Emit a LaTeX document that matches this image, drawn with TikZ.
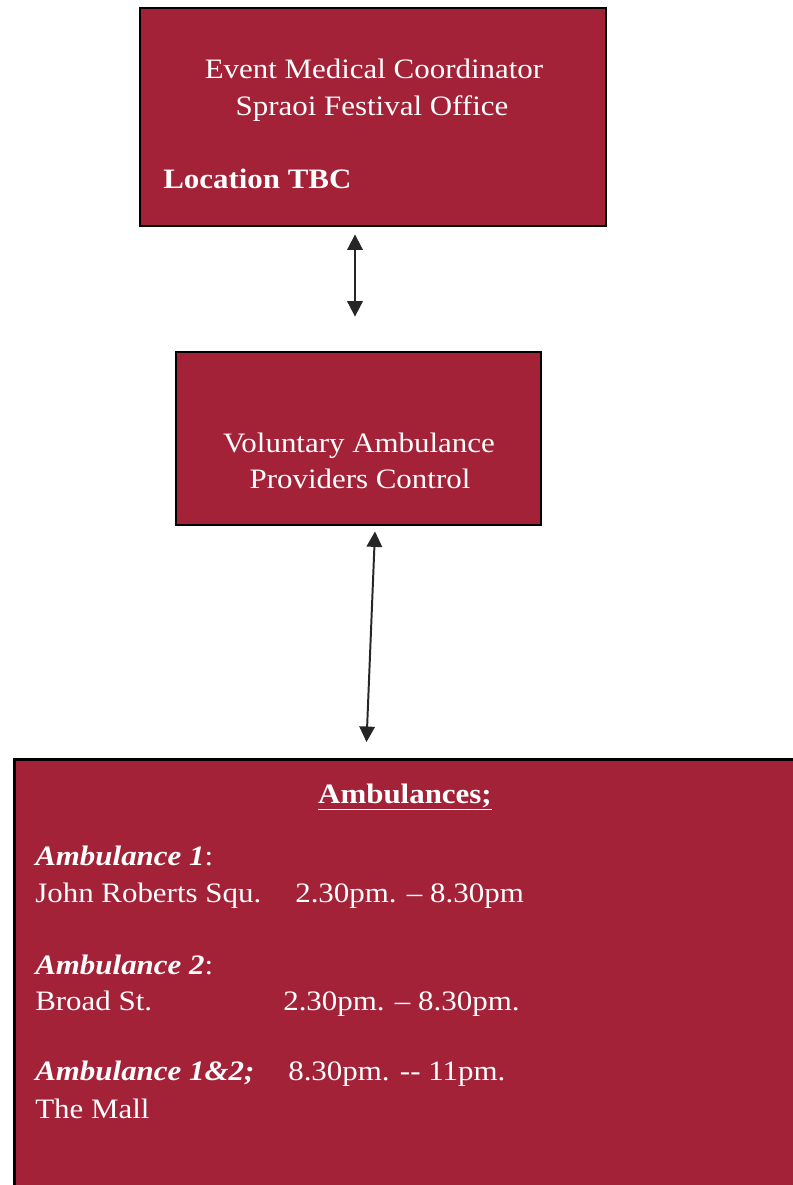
\documentclass[tikz,border=0pt]{standalone}
\usepackage{fontspec}
\setmainfont{Liberation Serif}[FakeStretch=1.1]
\usetikzlibrary{arrows.meta,calc}
\definecolor{boxred}{RGB}{163,34,56}

\begin{document}
\begin{tikzpicture}[x=0.025cm, y=-0.025cm,
                    lbl/.style={text=white, inner sep=0pt, font=\fontsize{20}{24}\selectfont},
                    panel/.style={draw=black, line width=2pt, fill=boxred, inner sep=0pt},
                    link/.style={{Triangle[width=11pt,length=11pt]}-{Triangle[width=11pt,length=11pt]}, line width=1.4pt, draw=black!85}
                ]
                    \useasboundingbox (0,0) rectangle (792,1185);

                    % Boxes
                    \node (coord) [panel, minimum width=11.65cm, minimum height=5.45cm] at (373,117) {};
                    \node (ctrl) [panel, minimum width=9.125cm, minimum height=4.325cm] at (358.5,438.5) {};
                    \node (amb) [panel, anchor=north west, minimum width=19.8cm, minimum height=11cm] at (13,758) {};

                    % Arrows
                    \draw[link] ($(coord.south)+(-18,7)$) -- ($(ctrl.north)+(-3.5,-34)$);
                    \draw[link] ($(ctrl.south)+(16.5,5)$) -- ($(amb.north)+(-44,-16)$);

                    % Top box text
                    \node (title1) [lbl, anchor=base] at (374,78) {Event Medical Coordinator};
                    \node (title2) [lbl, anchor=base] at (372,115) {Spraoi Festival Office};
                    \node (loc) [lbl, anchor=base west] at (163,188) {\bfseries Location TBC};

                    % Middle box text
                    \node (ctrl1) [lbl, anchor=base] at (359,452) {Voluntary Ambulance};
                    \node (ctrl2) [lbl, anchor=base] at (360,488) {Providers Control};

                    % Bottom box text
                    \node (head) [lbl, anchor=base] at (405,803) {\bfseries\underline{Ambulances;}};
                    \node (amb1) [lbl, anchor=base west] at (35,865) {{\bfseries\itshape Ambulance 1}:};
                    \node (site1) [lbl, anchor=base west] at (35,902) {John Roberts Squ.};
                    \node (time1) [lbl, anchor=base west] at (295,902) {2.30pm. -- 8.30pm};
                    \node (amb2) [lbl, anchor=base west] at (35,974) {{\bfseries\itshape Ambulance 2}:};
                    \node (site2) [lbl, anchor=base west] at (35,1010) {Broad St.};
                    \node (time2) [lbl, anchor=base west] at (283,1010) {2.30pm. -- 8.30pm.};
                    \node (amb3) [lbl, anchor=base west] at (35,1080) {\bfseries\itshape Ambulance 1\&2;};
                    \node (time3) [lbl, anchor=base west] at (288,1080) {8.30pm. -{}- 11pm.};
                    \node (site3) [lbl, anchor=base west] at (35,1118) {The Mall};

                \end{tikzpicture}
\end{document}
